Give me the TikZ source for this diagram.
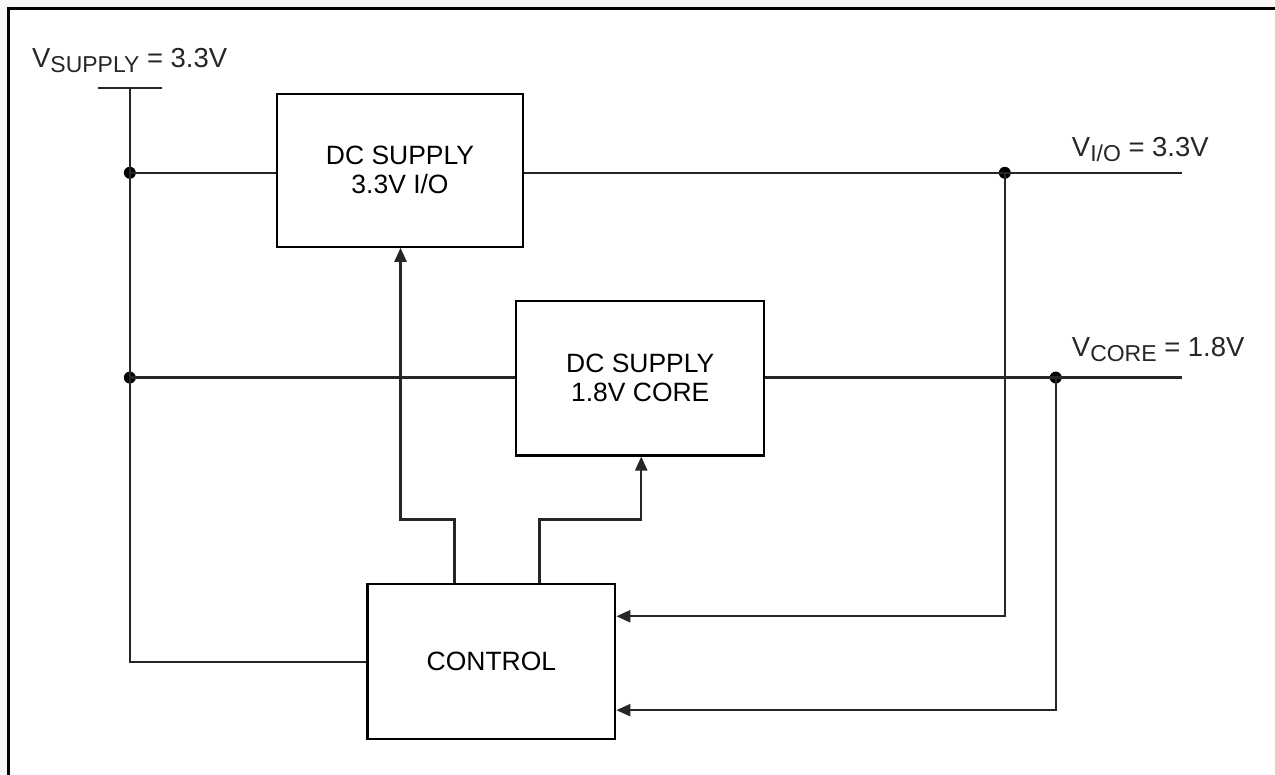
\documentclass[tikz,border=0pt]{standalone}
\usepackage{fontspec}
\setmainfont{Liberation Sans}
\usetikzlibrary{arrows.meta}
\begin{document}
\begin{tikzpicture}[x=1pt,y=-1pt,
  blk/.style={draw=black,line width=2.2pt,fill=white,inner sep=0pt,
    font=\fontsize{26.5}{29}\selectfont,align=center},
  wire/.style={draw=black!85,line width=2.4pt},
  sig/.style={wire,-{Triangle[length=14pt,width=12pt]}},
  jdot/.style={circle,fill=black,inner sep=0pt,minimum size=12pt},
  lbl/.style={anchor=base west,inner sep=0pt,text=black!85,font=\fontsize{27.5}{27.5}\selectfont}]
% background and frame
\fill[black!3] (0,0) rectangle (1275,774);
\fill[white] (8,8) rectangle (1275,774);
\coordinate (fA) at (8.5,774);
\coordinate (fB) at (8.5,8.5);
\coordinate (fC) at (1275,8.5);
\draw[line width=3pt,line cap=rect] (fA) -- (fB) -- (fC);
\useasboundingbox (0,0) rectangle (1275,774);

% blocks
\node[blk,minimum width=247pt,minimum height=153pt] (io) at (400.5,170.5) {DC SUPPLY\\3.3V I/O};
\node[blk,minimum width=248pt,minimum height=155pt] (core) at (641,378.5) {DC SUPPLY\\1.8V CORE};
\node[blk,minimum width=248pt,minimum height=155pt] (ctrl) at (492,662.5) {CONTROL};

% labels
\node[lbl] (vs) at (32,68) {V\raisebox{-4.5pt}{\fontsize{23}{23}\selectfont SUPPLY} = 3.3V};
\node[lbl] (vio) at (1073,157) {V\raisebox{-4.5pt}{\fontsize{23}{23}\selectfont I/O} = 3.3V};
\node[lbl] (vcore) at (1073,357) {V\raisebox{-4.5pt}{\fontsize{23}{23}\selectfont CORE} = 1.8V};

% coordinates
\coordinate (stub) at (130,88);
\coordinate (stubL) at (98,88);
\coordinate (stubR) at (162,88);
\coordinate (ioOut) at (1183,173);
\coordinate (coreOut) at (1183,378);
\coordinate (r1) at (0,617);
\coordinate (r2) at (0,711);
\coordinate (u1) at (455,520);
\coordinate (u2) at (401,520);
\coordinate (u3) at (540,520);
\coordinate (u4) at (642,520);

% dots
\node[jdot] (d1) at (130,173) {};
\node[jdot] (d2) at (130,378) {};
\node[jdot] (d3) at (1006,173) {};
\node[jdot] (d4) at (1057,378) {};

% wires
\draw[wire] (stubL) -- (stubR);
\draw[wire] (stub) |- (ctrl.west);
\draw[wire] (d1.center) -- (d1 -| io.west);
\draw[wire] (d1 -| io.east) -- (ioOut);
\draw[wire] (d2.center) -- (d2 -| core.west);
\draw[wire] (d2 -| core.east) -- (coreOut);
\draw[sig] (d3.center) |- (ctrl.east |- r1);
\draw[sig] (d4.center) |- (ctrl.east |- r2);
\draw[sig] (ctrl.north -| u1) -- (u1) -- (u2) -- (io.south -| u2);
\draw[sig] (ctrl.north -| u3) -- (u3) -- (u4) -- (core.south -| u4);
\end{tikzpicture}
\end{document}
